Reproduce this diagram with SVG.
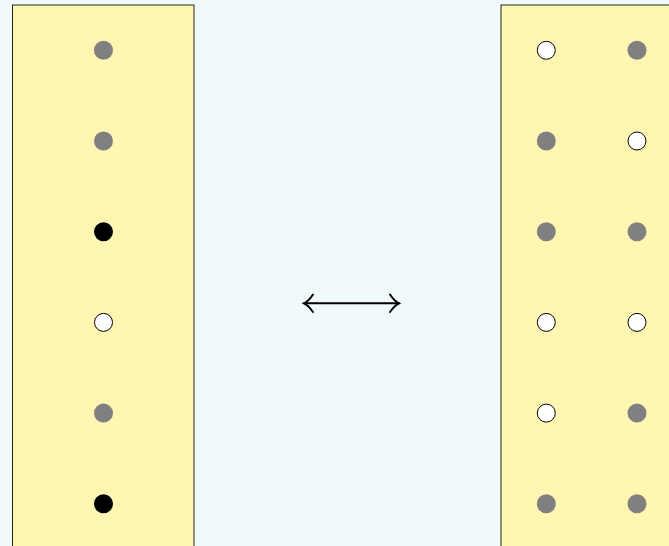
<svg xmlns="http://www.w3.org/2000/svg" width="669" height="546" viewBox="0 0 669 546">
  <style>
    .panel { fill: #fff7b1; stroke: #222; stroke-width: 1; }
    .g { fill: #808080; }
    .b { fill: #000; }
    .w { fill: #fff; stroke: #000; stroke-width: 1; }
    .arrow { fill: none; stroke: #000; stroke-width: 2; stroke-linecap: round; }
  </style>
  <rect width="669" height="546" fill="#f1fafa"/>

  <!-- left column -->
  <g id="left">
    <rect class="panel" x="12.5" y="5" width="181.5" height="560"/>
    <circle class="g" cx="103.5" cy="50.3" r="9.5"/>
    <circle class="g" cx="103.5" cy="141" r="9.5"/>
    <circle class="b" cx="103.5" cy="231.7" r="9.5"/>
    <circle class="w" cx="103.5" cy="322.4" r="9"/>
    <circle class="g" cx="103.5" cy="413.1" r="9.5"/>
    <circle class="b" cx="103.5" cy="503.8" r="9.5"/>
  </g>

  <!-- right grid -->
  <g id="right">
    <rect class="panel" x="501" y="5" width="200" height="560"/>
    <circle class="w" cx="546.3" cy="50.3" r="9"/>
    <circle class="g" cx="637" cy="50.3" r="9.5"/>
    <circle class="g" cx="546.3" cy="141" r="9.5"/>
    <circle class="w" cx="637" cy="141" r="9"/>
    <circle class="g" cx="546.3" cy="231.7" r="9.5"/>
    <circle class="g" cx="637" cy="231.7" r="9.5"/>
    <circle class="w" cx="546.3" cy="322.4" r="9"/>
    <circle class="w" cx="637" cy="322.4" r="9"/>
    <circle class="w" cx="546.3" cy="413.1" r="9"/>
    <circle class="g" cx="637" cy="413.1" r="9.5"/>
    <circle class="g" cx="546.3" cy="503.8" r="9.5"/>
    <circle class="g" cx="637" cy="503.8" r="9.5"/>
  </g>

  <!-- double-headed arrow -->
  <g id="connectors">
    <path class="arrow" d="M304 303.3 H399"/>
    <path class="arrow" d="M313 294.5 C310 299 307 302 304 303.3 C307 304.6 310 307.6 313 312"/>
    <path class="arrow" d="M390 294.5 C393 299 396 302 399 303.3 C396 304.6 393 307.6 390 312"/>
  </g>
</svg>
